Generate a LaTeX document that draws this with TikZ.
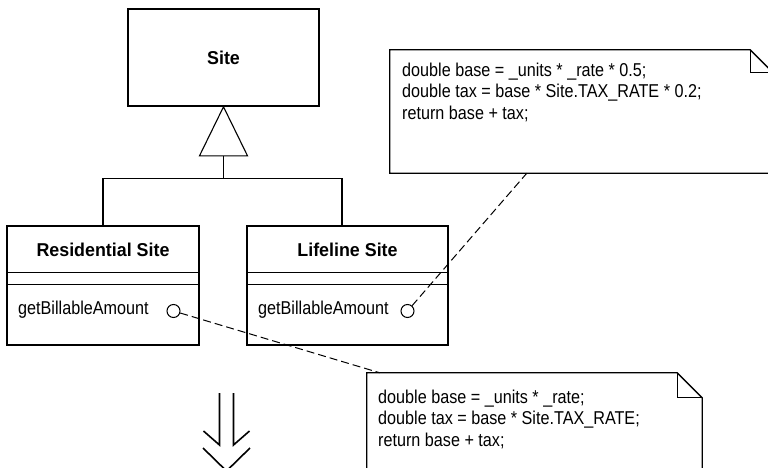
\documentclass[tikz,border=0pt]{standalone}
\usepackage{fontspec}
\setmainfont[
    FakeStretch=0.87,
    BoldFeatures={FakeStretch=0.96}
]{Liberation Sans}
\usetikzlibrary{arrows.meta}

\tikzset{
    classbox/.style={draw, line width=1.6pt, inner sep=0pt},
    classname/.style={font=\fontsize{18.6}{21}\selectfont\bfseries, inner sep=0pt},
    optext/.style={font=\fontsize{18.6}{21}\selectfont, inner sep=0pt, anchor=west},
    opdot/.style={draw, circle, line width=1pt, minimum size=13pt, inner sep=0pt},
    thinline/.style={line width=1.1pt},
    noteline/.style={line width=1.3pt},
    codetext/.style={font=\fontsize{18.6}{21.5}\selectfont, align=left, anchor=north west, inner sep=0pt},
    linkline/.style={line width=1pt, dash pattern=on 8pt off 4pt}
}

\begin{document}
\begin{tikzpicture}[x=1pt, y=-1pt]

\path[use as bounding box, clip] (0,0) rectangle (768,468);


% Site

\node[
    classbox,
    minimum width=191pt,
    minimum height=97pt
] (site) at (223.5,57.5) {};

\node[classname] (sitename) at (223.5,58) {Site};


% Residential Site

\node[
    classbox,
    minimum width=192pt,
    minimum height=119pt
] (res) at (103,285.5) {};

\node[classname] (resname) at (103,250) {Residential Site};

\draw[thinline] ([yshift=-47pt]res.north west) -- ([yshift=-47pt]res.north east);
\draw[thinline] ([yshift=-59pt]res.north west) -- ([yshift=-59pt]res.north east);

\node[optext] (resopname) at (18,310) {getBillableAmount};
\node[opdot] (resop) at (173.5,311) {};


% Lifeline Site

\node[
    classbox,
    minimum width=201pt,
    minimum height=119pt
] (life) at (347.5,285.5) {};

\node[classname] (lifename) at (347.5,250) {Lifeline Site};

\draw[thinline] ([yshift=-47pt]life.north west) -- ([yshift=-47pt]life.north east);
\draw[thinline] ([yshift=-59pt]life.north west) -- ([yshift=-59pt]life.north east);

\node[optext] (lifeopname) at (258,310) {getBillableAmount};
\node[opdot] (lifeop) at (407.5,311) {};


% Generalisation

\coordinate (tribase) at ([yshift=-49pt]site.south);

\draw[thinline] (site.south) -- ++(-24,49) -- ++(48,0) -- cycle;
\draw[thinline] (tribase) -- ++(0,23) -| (res.north);
\draw[thinline] (tribase) -- ++(0,23) -| ([xshift=-5.5pt]life.north);


% Notes

\node[
    minimum width=383pt,
    minimum height=123pt,
    inner sep=0pt
] (lifenote) at (581.5,111.5) {};

\draw[noteline]
    (lifenote.north west) -- ([xshift=-23pt]lifenote.north east)
    -- ([yshift=-23pt]lifenote.north east) -- (lifenote.south east)
    -- (lifenote.south west) -- cycle;
\draw[noteline] ([xshift=-23pt]lifenote.north east) |- ([yshift=-23pt]lifenote.north east);

\node[codetext] (lifecode) at (402,62.5) {double base = \_units * \_rate * 0.5;\\
double tax = base * Site.TAX\_RATE * 0.2;\\
return base + tax;};

\node[
    minimum width=335pt,
    minimum height=127pt,
    inner sep=0pt
] (resnote) at (534.5,436.5) {};

\draw[noteline]
    (resnote.north west) -- ([xshift=-25pt]resnote.north east)
    -- ([yshift=-25pt]resnote.north east) -- (resnote.south east)
    -- (resnote.south west) -- cycle;
\draw[noteline] ([xshift=-25pt]resnote.north east) |- ([yshift=-25pt]resnote.north east);

\node[codetext] (rescode) at (378,389.5) {double base = \_units * \_rate;\\
double tax = base * Site.TAX\_RATE;\\
return base + tax;};


% Links

\coordinate (resnotetop) at ([xshift=13pt]resnote.north west);
\coordinate (lifenotebot) at ([xshift=137pt]lifenote.south west);

\draw[linkline] (resop) -- (resnotetop);
\draw[linkline] (lifeop) -- (lifenotebot);


% Refactoring arrow

\coordinate (down) at (226.5,393);

\draw[line width=1.6pt]
    ([xshift=-7pt]down) -- ++(0,52) -- ++(-16,-14);
\draw[line width=1.6pt]
    ([xshift=7pt]down) -- ++(0,52) -- ++(16,-14);
\draw[line width=1.6pt]
    ([xshift=-23.5pt,yshift=-55pt]down) -- ++(23.5,23) -- ++(23.5,-23);

\end{tikzpicture}
\end{document}
